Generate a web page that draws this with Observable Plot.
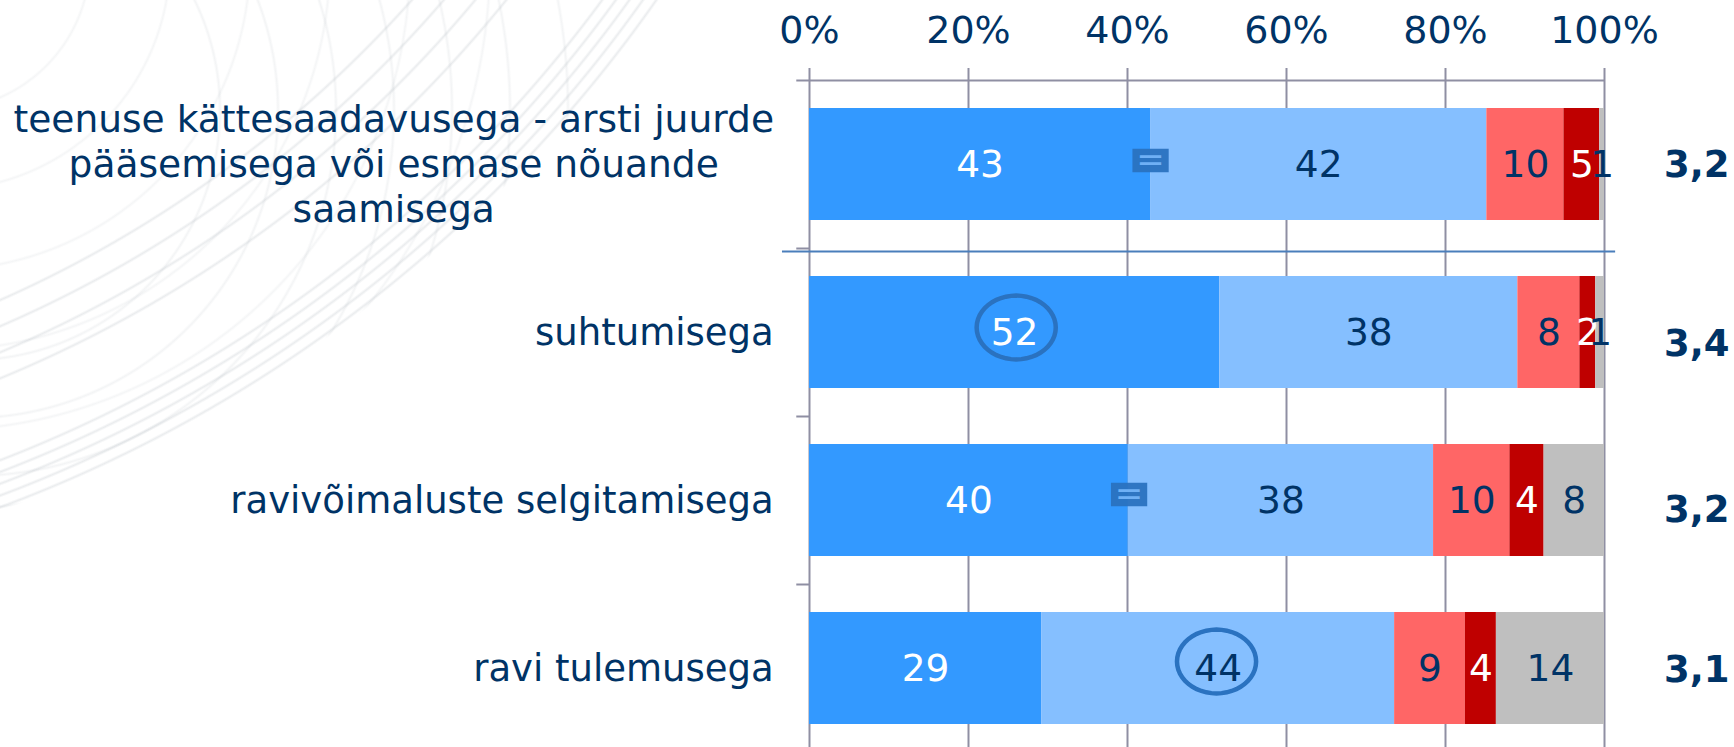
<!DOCTYPE html>
<html><head><meta charset="utf-8">
<style>
html,body{margin:0;padding:0;background:#fff;overflow:hidden}
#bg{position:absolute;left:0;top:0;width:760px;height:560px;pointer-events:none;
  -webkit-mask-image:radial-gradient(circle at -487px -801px,#000 1398px,transparent 1400px);
  mask-image:radial-gradient(circle at -487px -801px,#000 1398px,transparent 1400px)}
#chart{position:absolute;left:0;top:0}
</style>
<script src="https://cdn.jsdelivr.net/npm/d3@7"></script>
<script src="https://cdn.jsdelivr.net/npm/@observablehq/plot@0.6"></script>
</head><body><div id="bg"></div><div id="chart"></div>
<script>
const categories = ["teenuse kättesaadavusega - arsti juurde\npääsemisega või esmase nõuande\nsaamisega","suhtumisega","ravivõimaluste selgitamisega","ravi tulemusega"];
const segments = ["a","b","c","d","e"];
const colors = ["#3399ff","#85bfff","#ff6666","#bf0000","#bfbfbf"];
const labelColors = ["#ffffff","#003366","#003366","#ffffff","#003366"];
const widths = [[42.9,42.3,9.7,4.5,0.6],[51.6,37.5,7.8,2.0,1.1],[40.1,38.4,9.6,4.3,7.6],[29.2,44.4,8.9,3.9,13.6]];
const labels = [[43,42,10,5,1],[52,38,8,2,1],[40,38,10,4,8],[29,44,9,4,14]];
const means = ["3,2","3,4","3,2","3,1"];
const meanDy = [1,12,10,2];
const ticks = [0,20,40,60,80,100];
const circled = [{row:1,x:26,dy:-5},{row:3,x:51.2,dy:-7}];
const equalMarks = [{row:0,x:42.9,dy:-4},{row:2,x:40.2,dy:-6}];

const ink = "#003366", grid = "#8f8fa3", mark = "#2a72c0";
const font = "DejaVu Sans";
const long = [];
categories.forEach((c,i)=>segments.forEach((s,j)=>long.push({cat:c,seg:s,value:widths[i][j],label:labels[i][j],tc:labelColors[j]})));

const ellipse = {draw(ctx,size){const rx=Math.sqrt(size)*0.62, ry=Math.sqrt(size)*0.5;ctx.moveTo(rx,0);
  for(let k=1;k<=48;k++){const t=k/48*2*Math.PI;ctx.lineTo(rx*Math.cos(t),ry*Math.sin(t));}ctx.closePath();}};
const box = {draw(ctx,size){const w=Math.sqrt(size)*0.62,h=Math.sqrt(size)*0.4;ctx.rect(-w,-h,2*w,2*h);}};
const band = 168;

const chart = Plot.plot({
  width:1734,height:747,marginTop:68,marginLeft:0,marginRight:0,marginBottom:0,
  style:{background:"none",fontFamily:font},
  x:{domain:[0,100],range:[809,1604]},
  y:{domain:categories,range:[80,752],paddingInner:0.333,paddingOuter:0.1665,axis:null},
  color:{domain:segments,range:colors},
  marks:[
    Plot.ruleX(ticks,{stroke:grid,strokeWidth:2}),
    Plot.ruleY([categories[0]],{dy:-band/2,x1:0,x2:100,stroke:grid,strokeWidth:2}),
    Plot.ruleY(categories,{dy:-band/2,x1:-1.6,x2:0,stroke:grid,strokeWidth:2}),
    Plot.barX(long,{x:"value",y:"cat",fill:"seg",order:null}),
    Plot.ruleY([categories[1]],{dy:-band/2+3,x1:-3.4,x2:101.4,stroke:"#4a7ebb",strokeWidth:2}),
    Plot.text(long,Plot.stackX({x:"value",y:"cat",order:null,text:"label",fill:"tc",fontSize:37.5,dy:0.5})),
    ...circled.map(d=>Plot.dot([d],{x:"x",y:e=>categories[e.row],dy:d.dy,r:36,symbol:ellipse,stroke:mark,strokeWidth:4.5,fill:"none"})),
    ...equalMarks.map(d=>Plot.dot([d],{x:"x",y:e=>categories[e.row],dy:d.dy,r:16.5,symbol:box,fill:mark,fillOpacity:0.95,stroke:"none"})),
    ...equalMarks.map(d=>Plot.text([d],{x:"x",y:e=>categories[e.row],dy:d.dy,text:()=>"=",fill:"#6fb0f5",fontSize:34})),
    Plot.text(categories.slice(1),{x:()=>-4.5,y:d=>d,dy:0.5,text:d=>d,textAnchor:"end",fill:ink,fontSize:37}),
    Plot.text([categories[0]],{x:()=>-52.3,y:d=>d,dy:-2,text:d=>d,textAnchor:"middle",lineHeight:1.2,fill:ink,fontSize:37.6}),
    ...means.map((m,i)=>Plot.text([m],{x:()=>111.6,y:()=>categories[i],dy:meanDy[i],text:d=>d,fill:ink,fontSize:37,fontWeight:"bold"})),
    Plot.axisX({anchor:"top",ticks,tickSize:0,tickPadding:26,tickFormat:d=>d+"%",fontSize:38,color:ink,label:null})
  ]
});
document.getElementById("chart").appendChild(chart);

// faint decorative background arcs
const rings=[];
const ring=(cx,cy,r,a)=>rings.push(`radial-gradient(circle at ${cx}px ${cy}px,transparent ${r-2.2}px,rgba(175,183,190,${a}) ${r}px,transparent ${r+2.2}px)`);
for(let i=0;i<9;i++) ring(-487,-801,1396-i*(i<5?11:24),.26);
for(let i=0;i<7;i++) ring(-30,110,250+i*58,.15);
for(let i=0;i<6;i++) ring(-60,-40,150+i*80,.13);
document.getElementById("bg").style.backgroundImage=rings.join(",");
</script></body></html>
